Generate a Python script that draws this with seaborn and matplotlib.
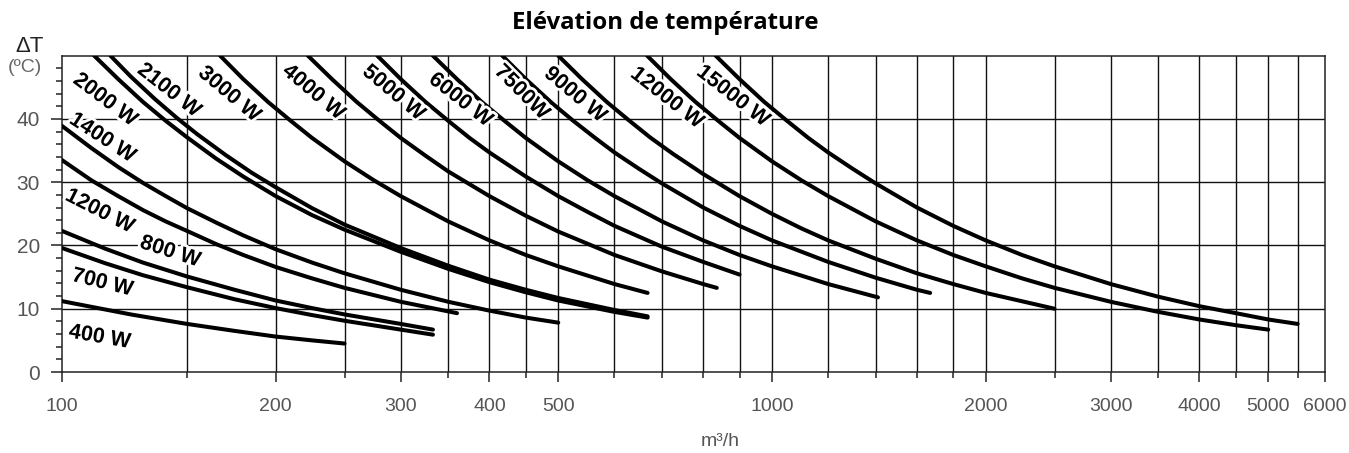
import numpy as np
import pandas as pd
import matplotlib
matplotlib.use("Agg")
import matplotlib.pyplot as plt
import matplotlib.patheffects as pe
from matplotlib.ticker import FixedLocator, NullFormatter
import seaborn as sns

# ---- data: airflow (m3/h) and temperature rise (degC) ----
q_400 = [100, 125, 150, 175, 200, 225, 250]
t_400 = [11.2, 9.1, 7.6, 6.5, 5.6, 5.0, 4.5]

q_700 = [100, 115, 130, 150, 175, 200, 225, 250, 300, 333]
t_700 = [19.6, 17.2, 15.3, 13.4, 11.5, 10.1, 9.0, 8.1, 6.7, 5.9]

q_800 = [100, 115, 130, 150, 175, 200, 225, 250, 300, 333]
t_800 = [22.3, 19.5, 17.3, 15.1, 13.0, 11.3, 10.1, 9.1, 7.6, 6.7]

q_1200 = [100, 110, 120, 130, 140, 150, 165, 180, 200, 225, 250, 300, 360]
t_1200 = [33.5, 30.3, 27.8, 25.6, 23.8, 22.3, 20.2, 18.5, 16.6, 14.8, 13.3, 11.1, 9.3]

q_1400 = [100, 110, 120, 130, 140, 150, 165, 180, 200, 225, 250, 300, 350, 400, 450, 500]
t_1400 = [38.9, 35.4, 32.4, 29.9, 27.8, 25.9, 23.6, 21.6, 19.4, 17.3, 15.6, 13.0, 11.1,
          9.7, 8.6, 7.8]

q_2000 = [111, 120, 130, 140, 150, 165, 180, 200, 225, 250, 300, 350, 400, 450, 500, 600, 668]
t_2000 = [50, 46.3, 42.7, 39.7, 37.1, 33.7, 30.9, 27.8, 24.8, 22.5, 19.0, 16.3, 14.2,
          12.6, 11.3, 9.5, 8.6]

q_2100 = [117, 125, 135, 145, 155, 170, 185, 200, 225, 250, 300, 350, 400, 450, 500, 600, 668]
t_2100 = [50, 46.7, 43.2, 40.2, 37.6, 34.3, 31.5, 29.2, 25.9, 23.3, 19.6, 16.8, 14.6,
          13.0, 11.7, 9.8, 8.8]

q_3000 = [167, 180, 195, 210, 225, 250, 275, 300, 350, 400, 450, 500, 600, 668]
t_3000 = [50, 46.3, 42.7, 39.7, 37.0, 33.3, 30.3, 27.8, 23.8, 20.8, 18.5, 16.7, 13.9, 12.5]

q_4000 = [222, 240, 260, 280, 300, 325, 350, 400, 450, 500, 600, 700, 800, 836]
t_4000 = [50, 46.3, 42.7, 39.7, 37.0, 34.2, 31.7, 27.8, 24.7, 22.2, 18.5, 15.9, 13.9, 13.3]

q_5000 = [278, 300, 325, 350, 375, 400, 450, 500, 550, 600, 700, 800, 900]
t_5000 = [50, 46.3, 42.7, 39.7, 37.0, 34.7, 30.9, 27.8, 25.3, 23.1, 19.8, 17.4, 15.4]

q_6000 = [333, 360, 390, 420, 450, 500, 550, 600, 700, 800, 900, 1000, 1200, 1410]
t_6000 = [50, 46.3, 42.7, 39.7, 37.0, 33.3, 30.3, 27.8, 23.8, 20.8, 18.5, 16.7, 13.9, 11.8]

q_7500 = [417, 450, 490, 525, 565, 600, 650, 700, 800, 900, 1000, 1200, 1400, 1600, 1670]
t_7500 = [50, 46.3, 42.5, 39.7, 36.9, 34.7, 32.1, 29.8, 26.0, 23.1, 20.8, 17.4, 14.9,
          13.0, 12.5]

q_9000 = [500, 540, 585, 630, 675, 725, 800, 900, 1000, 1100, 1200, 1400, 1600, 1800,
          2000, 2500]
t_9000 = [50, 46.3, 42.7, 39.7, 37.0, 34.5, 31.3, 27.8, 25.0, 22.7, 20.8, 17.9, 15.6,
          13.9, 12.5, 10.0]

q_12000 = [667, 720, 780, 840, 900, 1000, 1100, 1200, 1400, 1600, 1800, 2000, 2250,
           2500, 3000, 3500, 4000, 4500, 5000]
t_12000 = [50, 46.3, 42.7, 39.7, 37.0, 33.3, 30.3, 27.8, 23.8, 20.8, 18.5, 16.7, 14.8,
           13.3, 11.1, 9.5, 8.3, 7.4, 6.7]

q_15000 = [833, 900, 975, 1050, 1125, 1200, 1300, 1400, 1600, 1800, 2000, 2250, 2500,
           3000, 3500, 4000, 4500, 5000, 5500]
t_15000 = [50, 46.3, 42.7, 39.7, 37.0, 34.7, 32.1, 29.8, 26.0, 23.1, 20.8, 18.5, 16.7,
           13.9, 11.9, 10.4, 9.3, 8.3, 7.6]

curves = {
    "400 W": (q_400, t_400), "700 W": (q_700, t_700), "800 W": (q_800, t_800),
    "1200 W": (q_1200, t_1200), "1400 W": (q_1400, t_1400),
    "2000 W": (q_2000, t_2000), "2100 W": (q_2100, t_2100),
    "3000 W": (q_3000, t_3000), "4000 W": (q_4000, t_4000),
    "5000 W": (q_5000, t_5000), "6000 W": (q_6000, t_6000),
    "7500W": (q_7500, t_7500), "9000 W": (q_9000, t_9000),
    "12000 W": (q_12000, t_12000), "15000 W": (q_15000, t_15000),
}

# curve labels: text, position (m3/h, degC), rotation
label_text = ["2000 W", "2100 W", "3000 W", "4000 W", "5000 W", "6000 W", "7500W",
              "9000 W", "12000 W", "15000 W", "1400 W", "1200 W", "800 W", "700 W", "400 W"]
label_q = [115, 141.5, 172, 226, 293, 364, 444, 528, 711, 881, 114, 113, 142, 114, 113]
label_t = [43.0, 44.5, 43.9, 44.2, 44.1, 43.0, 44.2, 43.8, 43.3, 43.6, 37.0, 25.4, 19.0, 14.1, 5.5]
label_rot = [-37, -38, -40, -40, -40, -38, -45, -40, -38, -38, -33, -27, -18, -14, -10]

x_major = [100, 200, 300, 400, 500, 1000, 2000, 3000, 4000, 5000, 6000]
x_minor = [150, 250, 350, 450, 600, 700, 800, 900, 1200, 1400, 1600, 1800,
           2500, 3500, 4500, 5500]
y_major = [0, 10, 20, 30, 40]

# long table for seaborn
rows = []
for name, (q, t) in curves.items():
    for a, b in zip(q, t):
        rows.append({"power": name, "debit": a, "dT": b})
df = pd.DataFrame(rows)

sns.set_theme(style="white")
plt.rcParams["font.family"] = ["Liberation Sans", "DejaVu Sans"]

fig = plt.figure(figsize=(13.49, 4.53), dpi=100)
ax = fig.add_axes([62 / 1349, 1 - 372 / 453, (1324.5 - 62) / 1349, (372 - 55.7) / 453])

sns.lineplot(data=df, x="debit", y="dT", hue="power", units="power",
             estimator=None, sort=False, palette=["black"] * len(curves),
             linewidth=2.9, legend=False, ax=ax, zorder=3)

ax.set_xscale("log")
ax.set_xlim(100, 6000)
ax.set_ylim(0, 50)

# grid
grid_col = "#111111"
for v in x_major[1:-1] + x_minor:
    ax.axvline(v, color=grid_col, lw=1.0, zorder=1)
for v in y_major[1:]:
    ax.axhline(v, color=grid_col, lw=1.0, zorder=1)

for s in ax.spines.values():
    s.set_color("#222222")
    s.set_linewidth(1.1)

tick_col = "#555555"
ax.xaxis.set_major_locator(FixedLocator(x_major))
ax.xaxis.set_minor_locator(FixedLocator(x_minor))
ax.set_xticklabels([str(v) for v in x_major])
ax.xaxis.set_minor_formatter(NullFormatter())
ax.yaxis.set_major_locator(FixedLocator(y_major))
ax.yaxis.set_minor_locator(FixedLocator([v for v in range(2, 50, 2) if v % 10]))
ax.set_yticklabels([str(v) for v in y_major])

ax.tick_params(axis="x", which="major", direction="out", length=7, width=1.1,
               color="#222222", labelcolor=tick_col, labelsize=14, pad=12,
               bottom=True)
ax.tick_params(axis="x", which="minor", direction="out", length=4, width=1.1,
               color="#222222", bottom=True)
ax.tick_params(axis="y", which="major", direction="out", length=8, width=1.1,
               color="#222222", labelcolor=tick_col, labelsize=15, pad=8, left=True)
ax.tick_params(axis="y", which="minor", direction="out", length=4, width=1.1,
               color="#222222", left=True)

ax.set_xlabel("")
ax.set_ylabel("")

# curve labels with white halo
for txt, q, t, r in zip(label_text, label_q, label_t, label_rot):
    ax.text(q, t, txt, rotation=r, rotation_mode="anchor", ha="center", va="center",
            fontsize=15.5, fontweight="bold", color="black", zorder=4,
            path_effects=[pe.withStroke(linewidth=4, foreground="white")])

fig.text(30 / 1349, 1 - 46 / 453, "ΔT", ha="center", va="center", fontsize=16,
         color="#222222")
fig.text(25 / 1349, 1 - 67 / 453, "(ºC)", ha="center", va="center", fontsize=14,
         color="#666666")
fig.text(720 / 1349, 1 - 441 / 453, "m³/h", ha="center", va="center", fontsize=14,
         color=tick_col)
fig.text(665 / 1349, 1 - 23 / 453, "Elévation de température", ha="center",
         va="center", fontsize=17.3, fontweight="bold", color="black",
         family=["Open Sans", "DejaVu Sans"])

fig.savefig("out.png", dpi=100)
